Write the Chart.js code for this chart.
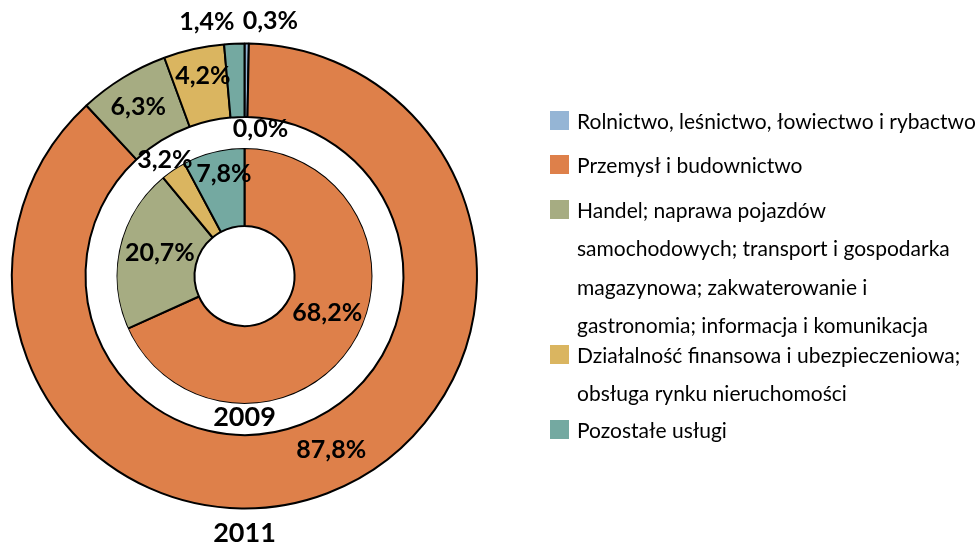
<!DOCTYPE html>
<html>
<head>
<meta charset="utf-8">
<script src="https://cdn.jsdelivr.net/npm/chart.js@4.4.1/dist/chart.umd.min.js"></script>
<style>
  html, body { margin: 0; padding: 0; background: #fff; }
  #wrap { width: 975px; height: 546px; }
</style>
</head>
<body>
<div id="wrap"><canvas id="pieChart" width="975" height="546"></canvas></div>
<script>
// kategorie (linie legendy jak w oryginale)
const categories = [
    ['Rolnictwo, leśnictwo, łowiectwo i rybactwo'],
    ['Przemysł i budownictwo'],
    ['Handel; naprawa pojazdów', 'samochodowych; transport i gospodarka', 'magazynowa; zakwaterowanie i', 'gastronomia; informacja i komunikacja'],
    ['Działalność finansowa i ubezpieczeniowa;', 'obsługa rynku nieruchomości'],
    ['Pozostałe usługi']
];
const years = ['2011', '2009'];
const values2011 = [0.3, 87.8, 6.3, 4.2, 1.4];
const values2009 = [0.0, 68.2, 20.7, 3.2, 7.8];
const colors = ['#95B5D5', '#DE804A', '#A6AC82', '#DAB560', '#74A9A1'];

// przesunięcia etykiet względem środka wycinka (px)
const offsets2011 = [[24, -59], [17, -9], [-4, -2], [1, -9], [-29, -59]];
const offsets2009 = [[16, -58], [8, -11], [2, -3], [-30, -42], [1, -16]];

const FONT = 'Lato, "Open Sans", sans-serif';

function fmt(v) {
    return v.toFixed(1).replace('.', ',') + '%';
}

const labelPlugin = {
    id: 'labels',
    afterDatasetsDraw(chart) {
        const ctx = chart.ctx;
        ctx.save();
        ctx.fillStyle = '#000';
        ctx.textAlign = 'center';
        ctx.textBaseline = 'middle';
        ctx.font = 'bold 25px ' + FONT;
        [[0, values2011, offsets2011], [2, values2009, offsets2009]].forEach(([di, vals, offs]) => {
            const meta = chart.getDatasetMeta(di);
            meta.data.forEach((arc, i) => {
                const p = arc.getCenterPoint();
                ctx.fillText(fmt(vals[i]), p.x + offs[i][0], p.y + offs[i][1]);
            });
        });

        // podpisy lat
        const outer = chart.getDatasetMeta(0).data[0];
        const gap = chart.getDatasetMeta(1).data[0];
        ctx.font = 'bold 27px ' + FONT;
        ctx.fillText(years[0], outer.x, outer.y + outer.outerRadius + 25);
        ctx.fillText(years[1], gap.x, gap.y + (gap.innerRadius + gap.outerRadius) / 2 - 2);

        // legenda
        const itemY = [120, 164, 209, 354, 429];
        const lineGap = 38.5;
        ctx.textAlign = 'left';
        ctx.font = '21px ' + FONT;
        categories.forEach((lines, i) => {
            ctx.fillStyle = colors[i];
            ctx.fillRect(550, itemY[i] - 9, 19, 19);
            ctx.fillStyle = '#000';
            lines.forEach((line, j) => {
                ctx.fillText(line, 577, itemY[i] + 2 + j * lineGap);
            });
        });
        ctx.restore();
    }
};

const ctx = document.getElementById('pieChart').getContext('2d');
new Chart(ctx, {
    type: 'doughnut',
    data: {
        labels: categories,
        datasets: [
            {
                label: years[0],
                data: values2011,
                backgroundColor: colors,
                borderColor: '#000',
                borderWidth: 2,
                weight: 73.5
            },
            {
                label: '',
                data: [1],
                backgroundColor: '#fff',
                borderWidth: 0,
                weight: 31
            },
            {
                label: years[1],
                data: values2009,
                backgroundColor: colors,
                borderColor: '#000',
                borderWidth: 2,
                weight: 78
            }
        ]
    },
    options: {
        responsive: false,
        animation: false,
        events: [],
        radius: 232.5,
        cutout: '21.5%',
        layout: {
            padding: { left: 0, right: 486, top: 6, bottom: 0 }
        },
        plugins: {
            legend: { display: false },
            tooltip: { enabled: false }
        }
    },
    plugins: [labelPlugin]
});
</script>
</body>
</html>
